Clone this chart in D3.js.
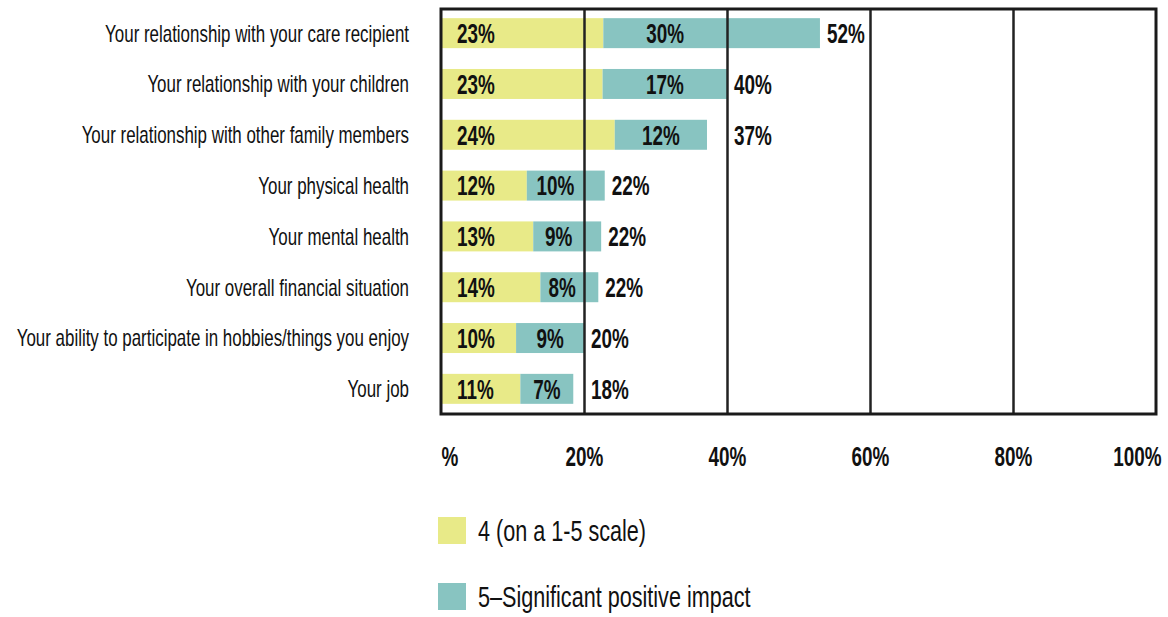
<!DOCTYPE html>
<html>
<head>
<meta charset="utf-8">
<script src="https://cdn.jsdelivr.net/npm/d3@7"></script>
<style>
  body { margin: 0; background: #fff; }
  svg { display: block; font-family: "Liberation Sans", Arial, sans-serif; }
</style>
</head>
<body>
<div id="chart"></div>
<script>
// categories + values
const categories = [
  'Your relationship with your care recipient',
  'Your relationship with your children',
  'Your relationship with other family members',
  'Your physical health',
  'Your mental health',
  'Your overall financial situation',
  'Your ability to participate in hobbies/things you enjoy',
  'Your job'
];
const fourVals = [22.7, 22.6, 24.3, 12.0, 12.9, 13.9, 10.5, 11.1];
const fiveVals = [30.3, 17.4, 12.9, 10.9, 9.5, 8.1, 9.5, 7.4];
const fourLabels = ['23%', '23%', '24%', '12%', '13%', '14%', '10%', '11%'];
const fiveLabels = ['30%', '17%', '12%', '10%', '9%', '8%', '9%', '7%'];
const totalLabels = ['52%', '40%', '37%', '22%', '22%', '22%', '20%', '18%'];
const tickVals = [0, 20, 40, 60, 80, 100];
const tickLabels = ['%', '20%', '40%', '60%', '80%', '100%'];
const seriesNames = ['4 (on a 1-5 scale)', '5\u2013Significant positive impact'];
const seriesColors = ['#e8ea88', '#88c4c1'];

const W = 1168, H = 617;
const pLeft = 441, pRight = 1156, pTop = 8, pBottom = 414;
const SX_CAT = 0.705, SX_BOLD = 0.70, SX_LEG = 0.745;
const ink = '#111';

const svg = d3.select('#chart').append('svg')
	.attr('width', W)
	.attr('height', H);

const scaleX = d3.scaleLinear().domain([0, 100]).range([pLeft, pRight]);
const scaleY = d3.scaleBand().domain(categories).range([pTop, pBottom])
	.paddingInner(0.41).paddingOuter(0.2);
const bw = scaleY.bandwidth();

const rows = categories.map((c, i) => ({
	cat: c, a: fourVals[i], b: fiveVals[i], i: i
}));

////////////////////////////////////////////////////////////////////
// category labels

svg.append('g').selectAll('g')
	.data(rows)
	.join('g')
	.attr('transform', d => `translate(409,${scaleY(d.cat) + bw / 2}) scale(${SX_CAT},1)`)
	.append('text')
	.attr('text-anchor', 'end')
	.attr('dy', '0.35em')
	.style('font-size', '24px')
	.attr('fill', ink)
	.text(d => d.cat);

////////////////////////////////////////////////////////////////////
// bars

const plot = svg.append('g').attr('class', 'plot');

plot.selectAll('.bar4')
	.data(rows)
	.join('rect')
	.attr('class', 'bar4')
	.attr('x', scaleX(0))
	.attr('y', d => scaleY(d.cat))
	.attr('width', d => scaleX(d.a) - scaleX(0))
	.attr('height', bw)
	.attr('fill', seriesColors[0]);

plot.selectAll('.bar5')
	.data(rows)
	.join('rect')
	.attr('class', 'bar5')
	.attr('x', d => scaleX(d.a))
	.attr('y', d => scaleY(d.cat))
	.attr('width', d => scaleX(d.a + d.b) - scaleX(d.a))
	.attr('height', bw)
	.attr('fill', seriesColors[1]);

////////////////////////////////////////////////////////////////////
// gridlines + tick labels (drawn over the bars)

const axisX = d3.axisBottom(scaleX)
	.tickValues(tickVals)
	.tickFormat((d, i) => tickLabels[i])
	.tickSize(-(pBottom - pTop))
	.tickPadding(33);

const axisNode = svg.append('g')
	.attr('class', 'axis axis-x')
	.attr('transform', `translate(0,${pBottom})`)
	.call(axisX);

axisNode.select('.domain').remove();
axisNode.selectAll('.tick line')
	.attr('stroke', '#222')
	.attr('stroke-width', 2.5)
	.attr('opacity', (d, i) => (i === 0 || i === tickVals.length - 1) ? 0 : 1);
axisNode.selectAll('.tick text')
	.attr('fill', ink)
	.style('font-size', '27px')
	.style('font-weight', 'bold')
	.attr('font-family', '"Liberation Sans", Arial, sans-serif')
	.attr('text-anchor', (d, i) => i === 0 ? 'start' : (i === tickVals.length - 1 ? 'end' : 'middle'))
	.attr('x', (d, i) => i === tickVals.length - 1 ? 5 / SX_BOLD : 0)
	.attr('transform', `scale(${SX_BOLD},1)`);

// frame
svg.append('rect')
	.attr('x', pLeft)
	.attr('y', pTop + 1)
	.attr('width', pRight - pLeft)
	.attr('height', pBottom - pTop - 1)
	.attr('fill', 'none')
	.attr('stroke', '#1a1a1a')
	.attr('stroke-width', 3);

////////////////////////////////////////////////////////////////////
// value labels

function boldLabel(sel, xFn, anchor, txtFn) {
	sel.append('g')
		.attr('transform', d => `translate(${xFn(d)},${scaleY(d.cat) + bw / 2}) scale(${SX_BOLD},1)`)
		.append('text')
		.attr('text-anchor', anchor)
		.attr('dy', '0.36em')
		.style('font-size', '27px')
		.style('font-weight', 'bold')
		.attr('fill', ink)
		.text(txtFn);
}

const labels = svg.append('g').selectAll('g')
	.data(rows)
	.join('g');

boldLabel(labels, d => scaleX(0) + 16, 'start', d => fourLabels[d.i]);

// teal label: centred in the part of the segment before the next gridline
boldLabel(labels, d => {
	const nextGrid = Math.ceil((d.a + 0.01) / 20) * 20;
	const end = Math.min(d.a + d.b, nextGrid);
	return (scaleX(d.a) + scaleX(end)) / 2;
}, 'middle', d => fiveLabels[d.i]);

// total label: pushed past a gridline it would touch
boldLabel(labels, d => {
	const end = d.a + d.b;
	const g = Math.ceil(end / 20) * 20;
	const base = (g - end < 3) ? scaleX(g) : scaleX(end);
	return base + 7;
}, 'start', d => totalLabels[d.i]);

////////////////////////////////////////////////////////////////////
// legend

const legend = svg.append('g').selectAll('g')
	.data(seriesNames)
	.join('g')
	.attr('transform', (d, i) => `translate(438,${517 + i * 66})`);

legend.append('rect')
	.attr('width', 28)
	.attr('height', 27)
	.attr('fill', (d, i) => seriesColors[i]);

legend.append('g')
	.attr('transform', `translate(40,14) scale(${SX_LEG},1)`)
	.append('text')
	.attr('dy', '0.35em')
	.style('font-size', '29px')
	.attr('fill', ink)
	.text(d => d);
</script>
</body>
</html>
